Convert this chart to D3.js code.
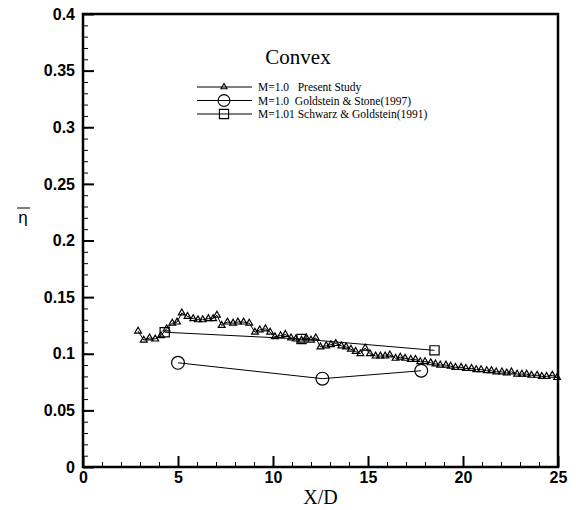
<!DOCTYPE html>
<html>
<head>
<meta charset="utf-8">
<script src="https://cdn.jsdelivr.net/npm/d3@7"></script>
<style>
  html, body { margin: 0; padding: 0; background: #fff; }
  svg { display: block; }
</style>
</head>
<body>
<div id="chart"></div>
<script>
// present study (triangles)
var presentX = [2.9, 3.2, 3.5, 3.8, 4.1, 4.4, 4.7, 4.95, 5.2, 5.5, 5.8, 6.05, 6.3, 6.6, 6.85, 7.05,
    7.3, 7.6, 7.9, 8.15, 8.45, 8.75, 9.05, 9.3, 9.6, 9.85, 10.1, 10.4, 10.65, 10.95, 11.2, 11.5,
    11.75, 12.0, 12.25, 12.5, 12.8, 13.05, 13.3, 13.6, 13.85, 14.1, 14.35, 14.6, 14.85, 15.1,
    15.4, 15.65, 15.9, 16.15, 16.45, 16.7, 16.95, 17.25, 17.5, 17.75, 18.0, 18.3, 18.55, 18.8,
    19.1, 19.35, 19.6, 19.9, 20.15, 20.45, 20.7, 20.95, 21.25, 21.5, 21.75, 22.05, 22.3, 22.55,
    22.85, 23.1, 23.35, 23.6, 23.9, 24.15, 24.4, 24.7, 24.95];
var presentEta = [0.120, 0.112, 0.114, 0.113, 0.116, 0.122, 0.127, 0.128, 0.136, 0.133, 0.131, 0.130,
    0.130, 0.131, 0.131, 0.134, 0.125, 0.128, 0.127, 0.128, 0.128, 0.127, 0.119, 0.121, 0.122,
    0.119, 0.115, 0.116, 0.117, 0.114, 0.113, 0.112, 0.114, 0.112, 0.114, 0.106, 0.107, 0.108,
    0.109, 0.107, 0.106, 0.104, 0.102, 0.100, 0.105, 0.100, 0.098, 0.098, 0.098, 0.099, 0.096,
    0.097, 0.096, 0.095, 0.095, 0.093, 0.093, 0.092, 0.091, 0.090, 0.090, 0.089, 0.088, 0.088,
    0.087, 0.087, 0.086, 0.086, 0.085, 0.085, 0.084, 0.084, 0.083, 0.084, 0.082, 0.082, 0.082,
    0.081, 0.081, 0.080, 0.080, 0.081, 0.079];
// Goldstein & Stone (circles)
var stoneX = [5.0, 12.6, 17.8];
var stoneEta = [0.092, 0.078, 0.085];
// Schwarz & Goldstein (squares)
var schwarzX = [4.3, 11.5, 18.5];
var schwarzEta = [0.119, 0.113, 0.103];

var xTicks = [0, 5, 10, 15, 20, 25];
var yTicks = [0, 0.05, 0.1, 0.15, 0.2, 0.25, 0.3, 0.35, 0.4];
var xMinor = d3.range(0, 26, 1);
var yMinor = d3.range(0, 41, 1).map(function (d) { return d / 100; });

var legendLabels = ['M=1.0   Present Study', 'M=1.0  Goldstein & Stone(1997)', 'M=1.01 Schwarz & Goldstein(1991)'];

var width = 576, height = 510;
var margin = {top: 14, left: 83, right: 18, bottom: 43};

var svg = d3.select('#chart').append('svg')
    .attr('width', width)
    .attr('height', height);

var x = d3.scaleLinear().domain([0, 25]).range([margin.left, width - margin.right]);
var y = d3.scaleLinear().domain([0, 0.4]).range([height - margin.bottom, margin.top]);

var sansFont = '"Liberation Sans", Arial, sans-serif';
var serifFont = '"Liberation Serif", "Times New Roman", serif';

// minor ticks
var gMinorX = svg.append('g')
    .attr('transform', 'translate(0,' + y(0) + ')')
    .call(d3.axisBottom(x).tickValues(xMinor).tickSize(-5).tickFormat(''));
var gMinorY = svg.append('g')
    .attr('transform', 'translate(' + x(0) + ',0)')
    .call(d3.axisLeft(y).tickValues(yMinor).tickSize(-5).tickFormat(''));
[gMinorX, gMinorY].forEach(function (g) {
    g.select('.domain').remove();
    g.selectAll('line').attr('stroke', '#000').attr('stroke-width', 1);
});

// major ticks + labels
var gx = svg.append('g')
    .attr('transform', 'translate(0,' + y(0) + ')')
    .call(d3.axisBottom(x).tickValues(xTicks).tickSize(-11).tickPadding(4)
        .tickFormat(function (d) { return String(d); }));
var gy = svg.append('g')
    .attr('transform', 'translate(' + x(0) + ',0)')
    .call(d3.axisLeft(y).tickValues(yTicks).tickSize(-11).tickPadding(8)
        .tickFormat(function (d) { return String(d); }));
[gx, gy].forEach(function (g) {
    g.select('.domain').remove();
    g.selectAll('line').attr('stroke', '#000').attr('stroke-width', 2);
    g.selectAll('text')
        .attr('fill', '#000')
        .style('font-family', sansFont)
        .style('font-size', '16px')
        .style('font-weight', 'bold');
});
gx.selectAll('text').attr('dy', '0.75em');

// frame
svg.append('rect')
    .attr('x', x(0))
    .attr('y', y(0.4))
    .attr('width', x(25) - x(0))
    .attr('height', y(0) - y(0.4))
    .attr('fill', 'none')
    .attr('stroke', '#000')
    .attr('stroke-width', 2.5);

// axis titles
svg.append('text')
    .attr('x', (x(0) + x(25)) / 2)
    .attr('y', 504)
    .attr('text-anchor', 'middle')
    .style('font-family', serifFont)
    .style('font-size', '20px')
    .text('X/D');
svg.append('text')
    .attr('x', 23)
    .attr('y', 223)
    .attr('text-anchor', 'middle')
    .style('font-family', sansFont)
    .style('font-size', '17px')
    .text('η');
svg.append('line')
    .attr('x1', 17).attr('x2', 30)
    .attr('y1', 208).attr('y2', 208)
    .attr('stroke', '#000').attr('stroke-width', 1);

var line = d3.line()
    .x(function (d) { return x(d[0]); })
    .y(function (d) { return y(d[1]); });

var present = d3.zip(presentX, presentEta);
var stone = d3.zip(stoneX, stoneEta);
var schwarz = d3.zip(schwarzX, schwarzEta);

function drawSeries(data, symbolType, size) {
    svg.append('path')
        .datum(data)
        .attr('d', line)
        .attr('fill', 'none')
        .attr('stroke', '#000')
        .attr('stroke-width', 1);
    svg.append('g').selectAll('path')
        .data(data)
        .enter()
        .append('path')
        .attr('transform', function (d) { return 'translate(' + x(d[0]) + ',' + y(d[1]) + ')'; })
        .attr('d', d3.symbol().type(symbolType).size(size))
        .attr('fill', 'none')
        .attr('stroke', '#000')
        .attr('stroke-width', 1.2);
}
drawSeries(present, d3.symbolTriangle, 20);
drawSeries(stone, d3.symbolCircle, 130);
drawSeries(schwarz, d3.symbolSquare, 85);

// title + legend
svg.append('text')
    .attr('x', 298)
    .attr('y', 64)
    .attr('text-anchor', 'middle')
    .style('font-family', serifFont)
    .style('font-size', '21px')
    .text('Convex');

var legendSymbols = [[d3.symbolTriangle, 16], [d3.symbolCircle, 110], [d3.symbolSquare, 85]];
var legendY = [87, 100.5, 114];
var lg = svg.append('g').selectAll('g')
    .data(legendLabels)
    .enter()
    .append('g')
    .attr('transform', function (d, i) { return 'translate(0,' + legendY[i] + ')'; });
lg.append('line')
    .attr('x1', 197).attr('x2', 252)
    .attr('stroke', '#000').attr('stroke-width', 1);
lg.append('path')
    .attr('transform', 'translate(224,0)')
    .attr('d', function (d, i) { return d3.symbol().type(legendSymbols[i][0]).size(legendSymbols[i][1])(); })
    .attr('fill', 'none')
    .attr('stroke', '#000')
    .attr('stroke-width', 1.1);
lg.append('text')
    .attr('x', 258)
    .attr('dy', '0.35em')
    .style('font-family', serifFont)
    .style('font-size', '11.5px')
    .style('white-space', 'pre')
    .text(function (d) { return d; });
</script>
</body>
</html>
